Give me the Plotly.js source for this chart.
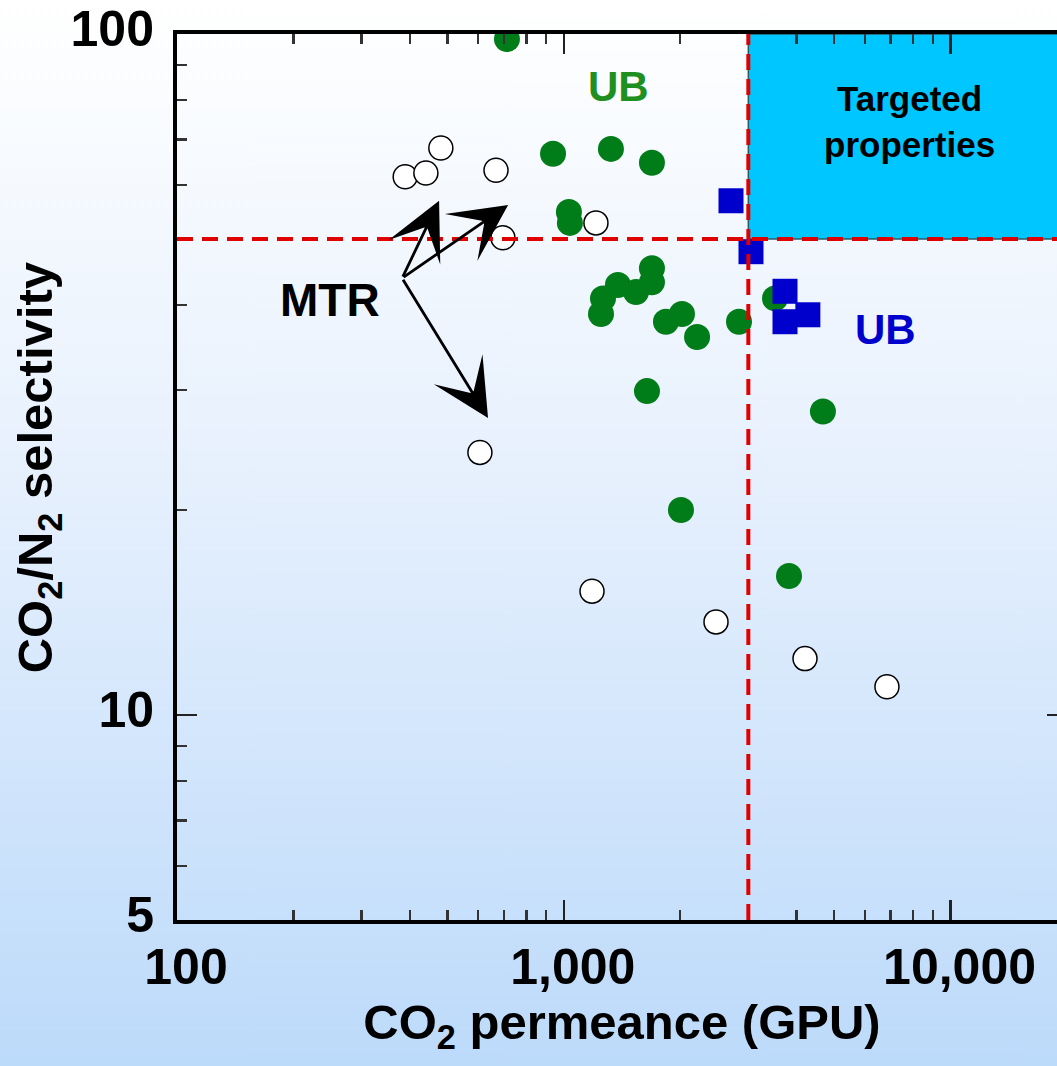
<!DOCTYPE html>
<html>
<head>
<meta charset="utf-8">
<script src="https://cdn.plot.ly/plotly-3.0.1.min.js"></script>
<style>
html, body { margin:0; padding:0; overflow:hidden; width:1057px; height:1066px;
  background: linear-gradient(to bottom, #ffffff 0%, #e6f0fd 45%, #bcdafa 100%); }
#chart { width:1100px; height:1066px; }
</style>
</head>
<body>
<div id="chart"></div>
<script>
// ---- data ----
// MTR membranes (open white circles)
const mtrPermeance  = [389, 440, 481, 668, 696, 1211, 607, 1183, 2475, 4204, 6847];
const mtrSelectivity = [61.7, 62.5, 68.0, 63.1, 50.2, 52.8, 24.3, 15.2, 13.7, 12.1, 11.0];
// UB membranes (green circles)
const ubGreenPermeance  = [713, 938, 1324, 1690, 1031, 1037, 1690, 1690, 1380, 1537, 1263, 1248, 1837, 2021, 2211, 2838, 3516, 1641, 4677, 2009, 3822];
const ubGreenSelectivity = [98.3, 66.7, 67.8, 64.7, 54.8, 52.8, 45.3, 43.2, 42.8, 41.8, 40.9, 38.8, 37.8, 38.8, 35.9, 37.8, 40.9, 29.9, 27.9, 20.0, 16.0];
// UB membranes (blue squares)
const ubBluePermeance  = [2706, 3048, 3732, 4276, 3732];
const ubBlueSelectivity = [56.9, 47.9, 41.9, 38.7, 37.8];
// target region / guide lines
const targetPermeance = 3000;
const targetSelectivity = 50;
const xMax = 20000, yMin = 5, yMax = 100, xMin = 100;
// axis ticks
const xTickVals = [100, 1000, 10000];
const xTickText = ['100', '1,000', '10,000'];
const xMinorVals = [200,300,400,500,600,700,800,900,2000,3000,4000,5000,6000,7000,8000,9000];
const yTickVals = [5, 10, 100];
const yTickText = ['5', '10', '100'];
const yMinorVals = [6,7,8,9,20,30,40,50,60,70,80,90];
// MTR arrows: common tail and tips (data units)
const arrowTail = [382, 43.8];
const arrowTipsX = [476, 718, 637];
const arrowTipsY = [56.9, 56.1, 27.3];

const FONT = 'Liberation Sans, Arial, Helvetica, sans-serif';
const L = Math.log10;

const traces = [
  { x: mtrPermeance, y: mtrSelectivity, type: 'scatter', mode: 'markers', name: 'MTR',
    marker: { symbol: 'circle', size: 24, color: '#ffffff', line: { color: '#000000', width: 1.5 } } },
  { x: ubGreenPermeance, y: ubGreenSelectivity, type: 'scatter', mode: 'markers', name: 'UB',
    marker: { symbol: 'circle', size: 26, color: '#007d18', line: { width: 0 } } },
  { x: ubBluePermeance, y: ubBlueSelectivity, type: 'scatter', mode: 'markers', name: 'UB sq',
    marker: { symbol: 'square', size: 25, color: '#0000cc', line: { width: 0 } } }
];

const titleFont = { family: FONT, size: 49, color: '#000000', weight: 'bold' };
const annotations = [
  { x: L(1389), y: L(83.6), xref: 'x', yref: 'y', text: 'UB', showarrow: false,
    font: { family: FONT, size: 42, color: '#1f8f1f', weight: 'bold' } },
  { x: L(6808), y: L(36.8), xref: 'x', yref: 'y', text: 'UB', showarrow: false,
    font: { family: FONT, size: 42, color: '#0000cc', weight: 'bold' } },
  { x: L(249), y: L(40.7), xref: 'x', yref: 'y', text: 'MTR', showarrow: false,
    font: { family: FONT, size: 46, color: '#000000', weight: 'bold' } },
  { x: L(7852), y: L(74.3), xref: 'x', yref: 'y', text: 'Targeted<br>properties', showarrow: false,
    font: { family: FONT, size: 35, color: '#000000', weight: 'bold' } },
  // y-axis title, placed as rotated text left of the tick labels
  { x: -0.156, y: 0.51, xref: 'paper', yref: 'paper', xanchor: 'center', yanchor: 'middle',
    text: 'CO<sub>2</sub>/N<sub>2</sub> selectivity', textangle: -90, showarrow: false, font: titleFont }
];
for (let i = 0; i < arrowTipsX.length; i++) {
  annotations.push({
    x: L(arrowTipsX[i]), y: L(arrowTipsY[i]), xref: 'x', yref: 'y',
    ax: L(arrowTail[0]), ay: L(arrowTail[1]), axref: 'x', ayref: 'y',
    text: '', showarrow: true, arrowhead: 3, arrowsize: 3.4, arrowwidth: 2.8,
    arrowcolor: '#000000', standoff: 0, startstandoff: 0
  });
}

const shapes = [
  { type: 'rect', xref: 'x', yref: 'y', x0: targetPermeance, x1: xMax, y0: targetSelectivity, y1: yMax,
    fillcolor: '#00c6ff', line: { color: '#2b5a68', width: 1.5 }, layer: 'below' },
  { type: 'line', xref: 'paper', yref: 'y', x0: 0, x1: 1, y0: targetSelectivity, y1: targetSelectivity,
    line: { color: '#e00000', width: 4, dash: '16px,9px' }, layer: 'above' },
  { type: 'line', xref: 'x', yref: 'paper', x0: targetPermeance, x1: targetPermeance, y0: 0, y1: 1,
    line: { color: '#e00000', width: 4, dash: '16px,9px' }, layer: 'above' }
];

const tickFont = { family: FONT, size: 50, color: '#000000', weight: 'bold' };
const layout = {
  width: 1100, height: 1066,
  margin: { l: 177, r: 33, t: 34, b: 146, autoexpand: false },
  paper_bgcolor: 'rgba(0,0,0,0)', plot_bgcolor: 'rgba(0,0,0,0)',
  showlegend: false,
  xaxis: {
    type: 'log', range: [L(xMin), L(xMax)], automargin: false,
    showline: true, linewidth: 4, linecolor: '#000000', mirror: 'ticks',
    showgrid: false, zeroline: false,
    ticks: 'inside', ticklen: 20, tickwidth: 2.5, tickcolor: '#222222',
    tickmode: 'array', tickvals: xTickVals, ticktext: xTickText,
    tickfont: tickFont, ticklabelshift: 9, ticklabelstandoff: 0, ticklabeloverflow: 'allow',
    minor: { tickmode: 'array', tickvals: xMinorVals, ticks: 'inside', ticklen: 10, tickwidth: 2.5, tickcolor: '#333333', showgrid: false },
    title: { text: 'CO<sub>2</sub> permeance (GPU)', font: titleFont, standoff: 4 }
  },
  yaxis: {
    type: 'log', range: [L(yMin), L(yMax)], automargin: false,
    showline: true, linewidth: 4, linecolor: '#000000', mirror: 'ticks',
    showgrid: false, zeroline: false,
    ticks: 'inside', ticklen: 20, tickwidth: 2.5, tickcolor: '#222222',
    tickmode: 'array', tickvals: yTickVals, ticktext: yTickText,
    tickfont: tickFont, ticklabelshift: -6, ticklabelstandoff: 9, ticklabeloverflow: 'allow',
    minor: { tickmode: 'array', tickvals: yMinorVals, ticks: 'inside', ticklen: 10, tickwidth: 2.5, tickcolor: '#333333', showgrid: false }
  },
  shapes: shapes,
  annotations: annotations
};

Plotly.newPlot('chart', traces, layout, { displayModeBar: false, staticPlot: true });
</script>
</body>
</html>
